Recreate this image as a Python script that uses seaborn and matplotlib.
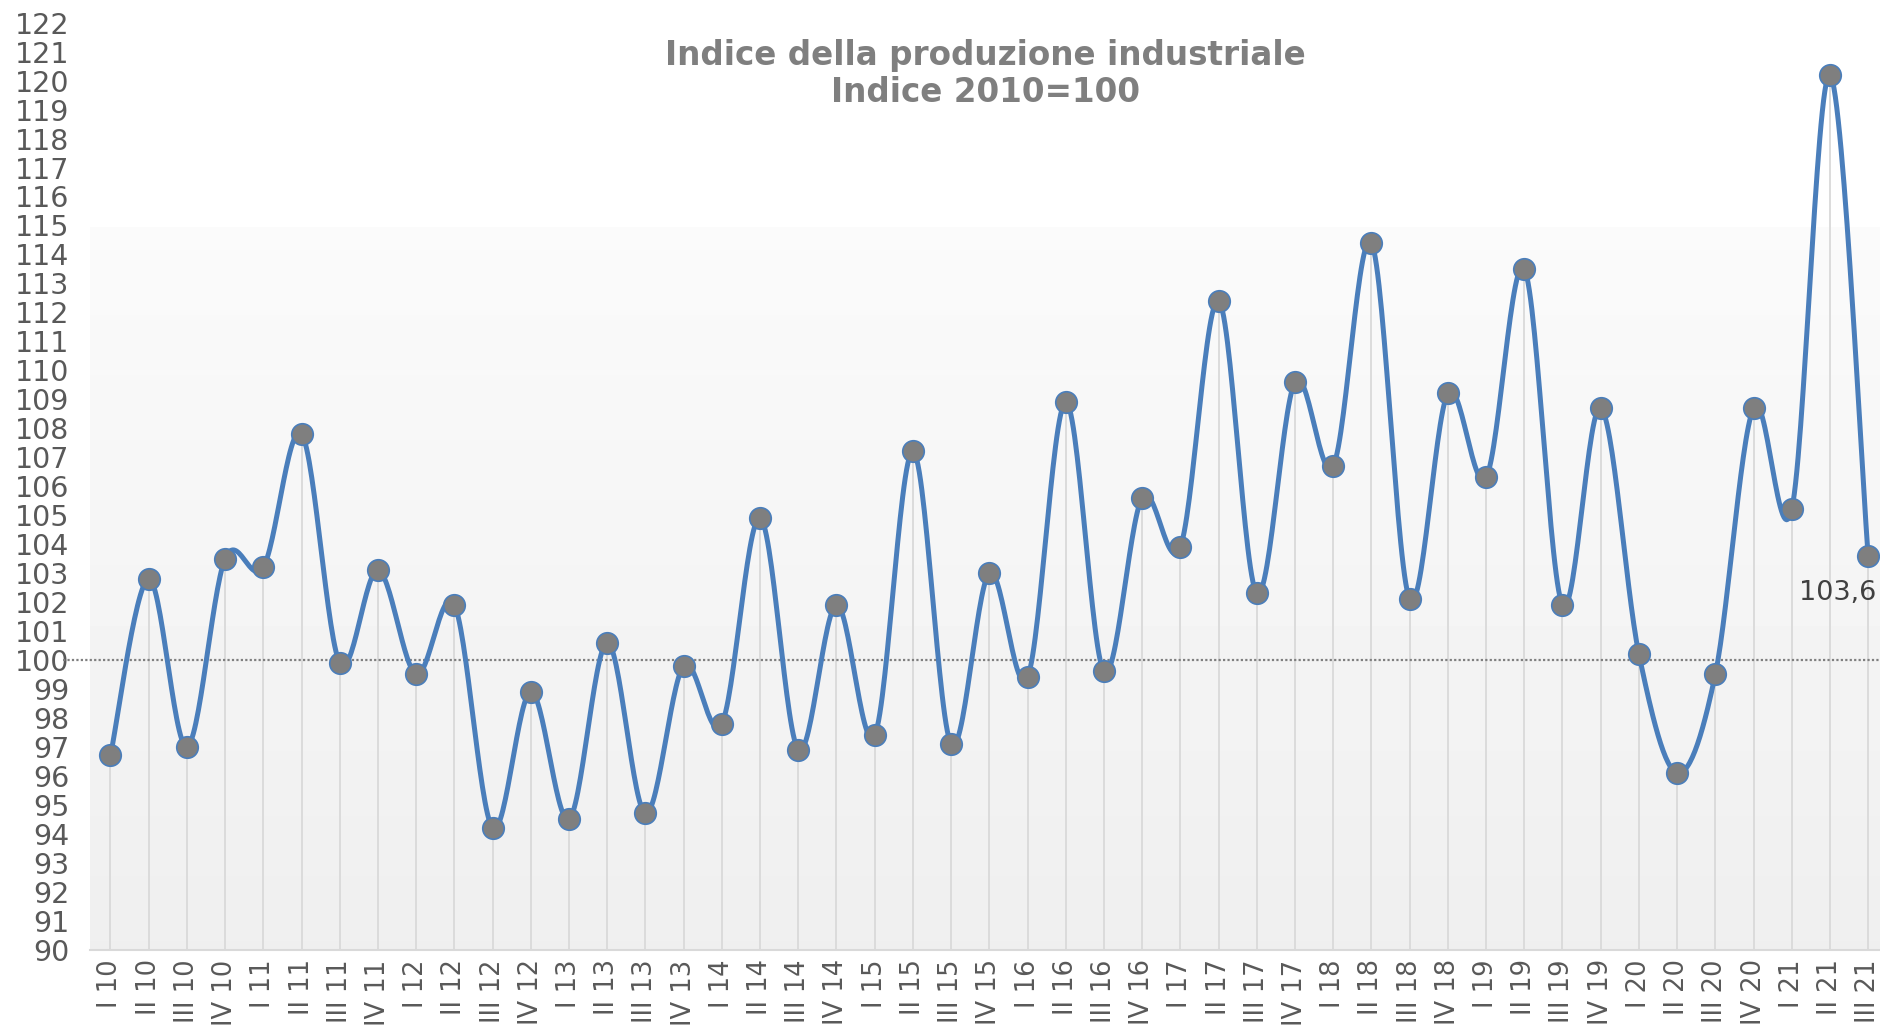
import numpy as np
import pandas as pd
import seaborn as sns
import matplotlib.pyplot as plt

# ---------------------------------
# Data: industrial production index, 2010=100
# ---------------------------------
quarters = ['I', 'II', 'III', 'IV']
years = ['10', '11', '12', '13', '14', '15', '16', '17', '18', '19', '20', '21']
labels = [q + ' ' + y for y in years for q in quarters][:47]

values = [96.7, 102.8, 97.0, 103.5,
          103.2, 107.8, 99.9, 103.1,
          99.5, 101.9, 94.2, 98.9,
          94.5, 100.6, 94.7, 99.8,
          97.8, 104.9, 96.9, 101.9,
          97.4, 107.2, 97.1, 103.0,
          99.4, 108.9, 99.6, 105.6,
          103.9, 112.4, 102.3, 109.6,
          106.7, 114.4, 102.1, 109.2,
          106.3, 113.5, 101.9, 108.7,
          100.2, 96.1, 99.5, 108.7,
          105.2, 120.2, 103.6]

last_label = '103,6'
base_value = 100

df = pd.DataFrame({'period': labels, 'value': values})
df['pos'] = np.arange(len(df))

# smoothed line like the spreadsheet "smoothed line" option (Catmull-Rom bezier)
def smooth_curve(x, y, n=30):
    px = np.concatenate([[x[0]], x, [x[-1]]])
    py = np.concatenate([[y[0]], y, [y[-1]]])
    xs, ys = [], []
    t = np.linspace(0, 1, n, endpoint=False)
    for i in range(1, len(px) - 2):
        p0x, p1x, p2x, p3x = px[i - 1], px[i], px[i + 1], px[i + 2]
        p0y, p1y, p2y, p3y = py[i - 1], py[i], py[i + 1], py[i + 2]
        c1x, c1y = p1x + (p2x - p0x) / 6, p1y + (p2y - p0y) / 6
        c2x, c2y = p2x - (p3x - p1x) / 6, p2y - (p3y - p1y) / 6
        b0, b1, b2, b3 = (1 - t) ** 3, 3 * (1 - t) ** 2 * t, 3 * (1 - t) * t ** 2, t ** 3
        xs.append(b0 * p1x + b1 * c1x + b2 * c2x + b3 * p2x)
        ys.append(b0 * p1y + b1 * c1y + b2 * c2y + b3 * p2y)
    xs.append([x[-1]])
    ys.append([y[-1]])
    return np.concatenate(xs), np.concatenate(ys)

sx, sy = smooth_curve(df['pos'].to_numpy(float), df['value'].to_numpy(float))
smooth = pd.DataFrame({'x': sx, 'y': sy})

# ---------------------------------
# Plot
# ---------------------------------
sns.set_style('white')
plt.rcParams['font.family'] = ['DejaVu Sans']

fig = plt.figure(figsize=(18.8, 10.31), dpi=100)
ax = fig.add_axes([0.048, 0.079, 0.952, 0.899])

xmin, xmax = -0.53, 46.31
ymin, ymax = 90, 122

# gradient background of the plot area
grad_y = np.linspace(ymin, ymax, 200)
shade = np.where(grad_y < 115, 0.937 + (grad_y - ymin) / (115 - ymin) * (0.982 - 0.937), 1.0)
grad = np.repeat(shade[:, None], 2, axis=1)
ax.imshow(grad, cmap='gray', vmin=0, vmax=1, origin='lower', aspect='auto',
          extent=[xmin, xmax, ymin, ymax], zorder=0)

# drop lines from the axis to each point
ax.vlines(df['pos'], ymin, df['value'], color='#d9d9d9', linewidth=1.3, zorder=1)

# reference line at 100
ax.plot([-1.25, xmax], [base_value, base_value], linestyle=(0, (1, 1)), color='#7f7f7f',
        linewidth=1.6, clip_on=False, zorder=2)

sns.lineplot(data=smooth, x='x', y='y', estimator=None, sort=False, color='#4a7ebb',
             linewidth=3.6, ax=ax, zorder=3)
sns.scatterplot(data=df, x='pos', y='value', s=240, color='#7f7f7f', edgecolor='#4a7ebb',
                linewidth=1.2, ax=ax, zorder=4)

ax.annotate(last_label, (df['pos'].iloc[-1], df['value'].iloc[-1]), xytext=(-22, -27),
            textcoords='offset points', ha='center', va='center', fontsize=19.5, color='#404040')

ax.set_xlim(xmin, xmax)
ax.set_ylim(ymin, ymax)
ax.set_xticks(df['pos'])
ax.set_xticklabels(df['period'], rotation=90, fontsize=18.5, color='#595959')
ax.set_yticks(np.arange(ymin, ymax + 1, 1))
ax.set_yticklabels([str(v) for v in range(ymin, ymax + 1)], fontsize=20.5, color='#595959')
ax.tick_params(axis='y', length=0, pad=15)
ax.tick_params(axis='x', length=0, pad=7)
ax.set_xlabel('')
ax.set_ylabel('')

for side in ['left', 'right', 'top']:
    ax.spines[side].set_visible(False)
ax.spines['bottom'].set_color('#d9d9d9')
ax.spines['bottom'].set_linewidth(1.5)

fig.text(0.524, 0.928, 'Indice della produzione industriale\nIndice 2010=100', ha='center',
         va='center', fontsize=23.5, fontweight='bold', color='#7f7f7f', linespacing=1.15)

fig.savefig('out.png', dpi=100)
